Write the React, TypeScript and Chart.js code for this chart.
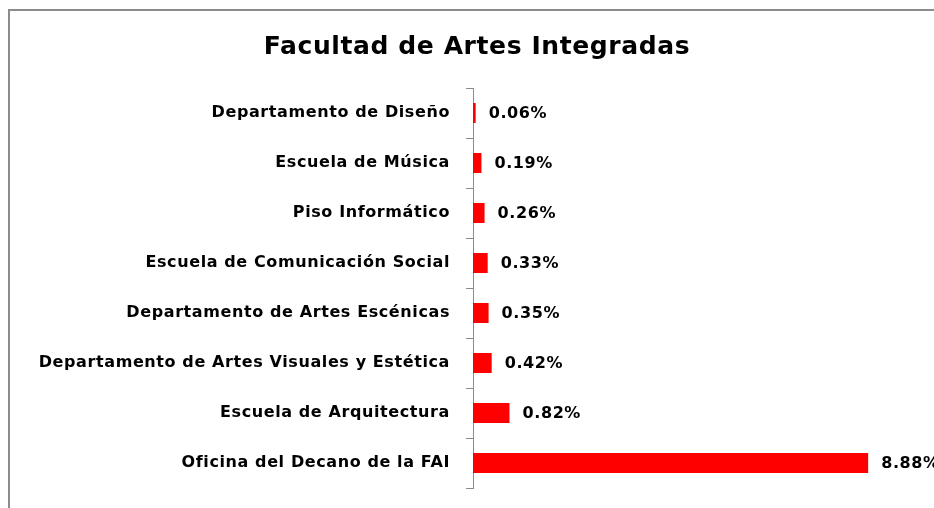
import React, { useEffect, useRef } from "react";
import { Chart, registerables } from "chart.js";

Chart.register(...registerables);

const categories = [
  "Departamento de Diseño",
  "Escuela de Música",
  "Piso Informático",
  "Escuela de Comunicación Social",
  "Departamento de Artes Escénicas",
  "Departamento de Artes Visuales y Estética",
  "Escuela de Arquitectura",
  "Oficina del Decano de la FAI",
];
const values = [0.06, 0.19, 0.26, 0.33, 0.35, 0.42, 0.82, 8.88];
const valueLabels = ["0.06%", "0.19%", "0.26%", "0.33%", "0.35%", "0.42%", "0.82%", "8.88%"];
const titleText = "Facultad de Artes Integradas";

const FONT = "'DejaVu Sans', sans-serif";

const spacingPlugin = {
  id: "spacing",
  beforeDraw(chart: any) {
    (chart.ctx as any).letterSpacing = "0.6px";
  },
};

const barLabelPlugin = {
  id: "barLabels",
  afterDatasetsDraw(chart: any) {
    const ctx = chart.ctx;
    const meta = chart.getDatasetMeta(0);
    ctx.save();
    (ctx as any).letterSpacing = "0.6px";
    ctx.font = `bold 16px ${FONT}`;
    ctx.fillStyle = "#000000";
    ctx.textAlign = "left";
    ctx.textBaseline = "middle";
    meta.data.forEach((el: any, i: number) => {
      ctx.fillText(valueLabels[i], el.x + 13, el.y + 1);
    });
    ctx.restore();
  },
};

export default function App() {
  const canvasRef = useRef<HTMLCanvasElement | null>(null);

  useEffect(() => {
    document.body.style.margin = "0";
    document.body.style.overflow = "hidden";
    const canvas = canvasRef.current;
    if (!canvas) return;
    const chart = new Chart(canvas, {
      type: "bar",
      data: {
        labels: categories,
        datasets: [
          {
            data: values,
            backgroundColor: "#ff0000",
            borderWidth: 0,
            barPercentage: 0.4,
            categoryPercentage: 1,
          },
        ],
      },
      options: {
        indexAxis: "y",
        animation: false,
        responsive: false,
        maintainAspectRatio: false,
        layout: { padding: { left: 36, right: 16, top: 0, bottom: 20 } },
        plugins: {
          legend: { display: false },
          tooltip: { enabled: false },
          title: {
            display: true,
            text: titleText,
            color: "#000000",
            font: { family: FONT, size: 25, weight: "bold", lineHeight: 1.2 },
            padding: { top: 32, bottom: 26 },
          },
        },
        scales: {
          x: { display: false, min: 0, max: 10 },
          y: {
            afterFit(scale: any) {
              scale.width = 437;
              scale.paddingTop = 0;
              scale.paddingBottom = 0;
            },
            grid: {
              offset: true,
              drawOnChartArea: false,
              drawTicks: true,
              tickLength: 7,
              color: "#8c8c8c",
              lineWidth: 1,
            },
            border: { display: true, color: "#8c8c8c", width: 1 },
            ticks: {
              color: "#000000",
              padding: 16,
              autoSkip: false,
              font: { family: FONT, size: 16, weight: "bold" },
            },
          },
        },
      },
      plugins: [spacingPlugin, barLabelPlugin],
    });
    return () => chart.destroy();
  }, []);

  return (
    <div style={{ position: "relative", width: 934, height: 508, overflow: "hidden", background: "#ffffff" }}>
      <canvas ref={canvasRef} width={934} height={508} style={{ display: "block" }} />
      <div
        style={{
          position: "absolute",
          left: 8,
          top: 9,
          width: 1000,
          height: 600,
          borderLeft: "2px solid #8c8c8c",
          borderTop: "2px solid #8c8c8c",
          pointerEvents: "none",
        }}
      />
    </div>
  );
}
